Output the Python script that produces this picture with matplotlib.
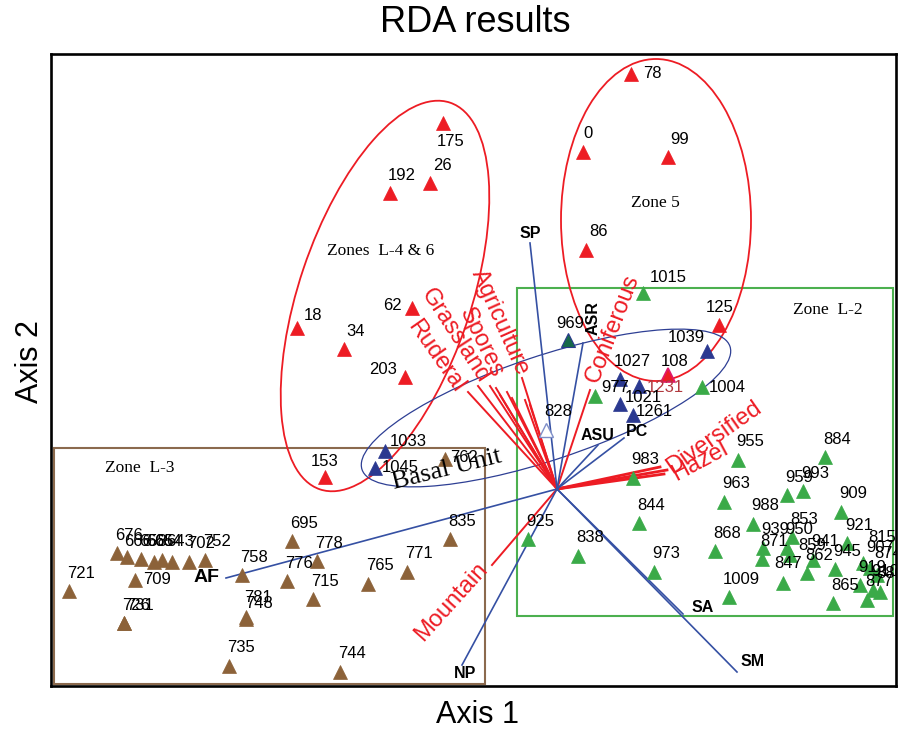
import matplotlib
matplotlib.use("Agg")
import matplotlib.pyplot as plt
from matplotlib.patches import Ellipse, Rectangle

plt.rcParams['font.family'] = ['Liberation Sans', 'DejaVu Sans']

# sample scores (units = plot pixels, y grows downward)
red_names = ['78', '0', '99', '86', '175', '26', '192', '62', '18', '34', '203', '153', '125']
red_x = [631, 583, 668, 586, 443, 430, 390, 412, 297, 344, 405, 325, 719]
red_y = [74, 152, 157, 250, 123, 183, 193, 308, 328, 349, 377, 477, 325]

navy_names = ['1039', '1027', '1231', '1021', '1261', '1033', '1045']
navy_x = [707, 620, 639, 620, 633, 385, 375]
navy_y = [351, 379, 386, 404, 415, 451, 468]

green_names = ['1015', '977', '1004', '983', '844', '925', '838', '973', '955', '884',
               '963', '959', '993', '909', '988', '868', '921', '939', '950', '853',
               '871', '859', '941', '862', '847', '1009', '945', '865', '877', '919',
               '910', '907', '815', '874', '880']
green_x = [643, 595, 702, 633, 639, 528, 578, 654, 738, 825,
           724, 787, 803, 841, 753, 715, 847, 763, 787, 792,
           762, 790, 813, 807, 783, 729, 835, 833, 867, 860,
           873, 863, 870, 877, 880]
green_y = [293, 396, 387, 478, 523, 539, 556, 572, 460, 457,
           502, 495, 491, 512, 524, 551, 543, 548, 548, 537,
           559, 555, 560, 573, 583, 597, 569, 603, 600, 585,
           590, 563, 568, 575, 592]

brown_names = ['721', '676', '666', '658', '665', '664', '643', '702', '752', '709',
               '726', '731', '758', '695', '778', '776', '715', '765', '771', '835',
               '781', '748', '735', '744', '762']
brown_x = [69, 117, 127, 141, 154, 162, 172, 189, 205, 135,
           124, 124, 242, 292, 317, 287, 313, 368, 407, 450,
           246, 246, 229, 340, 445]
brown_y = [591, 553, 557, 559, 562, 560, 562, 562, 560, 580,
           623, 623, 575, 541, 561, 581, 599, 584, 572, 539,
           617, 619, 666, 672, 459]

other_names = ['969', '108', '828']
other_x = [568, 668, 546]
other_y = [340, 375, 430]

origin = (557, 489)

# environmental variables (blue) and pollen groups (red)
env_names = ['SP', 'ASR', 'ASU', 'PC', 'AF', 'NP', 'SA', 'SM']
env_x = [530, 583, 598, 624, 226, 462, 683, 737]
env_y = [243, 343, 445, 438, 578, 665, 614, 672]

sp_x = [468, 478, 490, 496, 500, 507, 512, 522, 525, 530, 590, 667, 664, 660, 492]
sp_y = [392, 386, 386, 388, 395, 392, 398, 378, 400, 405, 390, 470, 474, 467, 565]

RED = '#ed1c24'
BLUE = '#3550a3'

fig = plt.figure(figsize=(9.06, 7.29), dpi=100)
ax = fig.add_axes([51 / 906, 43 / 729, 845 / 906, 632 / 729])
ax.set_xlim(51, 896)
ax.set_ylim(686, 54)
ax.set_xticks([])
ax.set_yticks([])
for s in ax.spines.values():
    s.set_linewidth(1.9)

# zone boxes and ellipses
ax.add_patch(Rectangle((54, 448), 431, 236, fill=False, ec='#8b6a4e', lw=1.5))
ax.add_patch(Rectangle((517, 288), 376, 328, fill=False, ec='#4cb04f', lw=1.5))
ax.add_patch(Ellipse((656, 220), 190, 322, angle=0, fill=False, ec=RED, lw=1.3))
ax.add_patch(Ellipse((385, 296), 408, 172, angle=-71.4, fill=False, ec=RED, lw=1.3))
ax.add_patch(Ellipse((546, 408), 388, 104, angle=-18.5, fill=False, ec='#2e3f94', lw=0.9))

# arrows
for x, y in zip(sp_x, sp_y):
    lw = 2.0 if x > 600 and y > 450 else 1.4
    ax.plot([origin[0], x], [origin[1], y], color=RED, lw=lw, zorder=2)
for x, y in zip(env_x, env_y):
    ax.plot([origin[0], x], [origin[1], y], color=BLUE, lw=1.2, zorder=2)

env_lab = {'SP': (0, -9, 0), 'ASR': (10, -25, 90), 'ASU': (0, -9, 0), 'PC': (13, -7, 0),
           'AF': (-19, 0, 0), 'NP': (3, 8, 0), 'SA': (20, -6, 0), 'SM': (16, -10, 0)}
for n, x, y in zip(env_names, env_x, env_y):
    dx, dy, rot = env_lab[n]
    fs = 14 if n == 'AF' else 11.5
    ax.text(x + dx, y + dy, n, fontsize=fs, fontweight='bold', ha='center', va='center',
            rotation=rot, zorder=5)

# pollen group labels
sp_labels = [('Agriculture', 500, 322, -66), ('Spores', 481, 343, -64),
             ('Grassland', 455, 336, -57), ('Ruderal', 436, 357, -55),
             ('Coniferous', 613, 329, 69), ('Diversified', 714, 437, 35),
             ('Hazel', 700, 462, 28), ('Mountain', 451, 602, 48)]
for t, x, y, r in sp_labels:
    ax.text(x, y, t, color=RED, fontsize=17, ha='center', va='center', rotation=r,
            rotation_mode='anchor', zorder=5)

# sample markers
groups = [(red_names, red_x, red_y, RED, RED),
          (navy_names, navy_x, navy_y, '#2b3990', '#2b3990'),
          (green_names, green_x, green_y, '#3aaa48', '#3aaa48'),
          (brown_names, brown_x, brown_y, '#8c6239', '#8c6239')]
for names, xs, ys, fc, ec in groups:
    ax.plot(xs, ys, '^', ms=9.5, mfc=fc, mec=ec, mew=0.5, ls='none', zorder=4)
ax.plot(other_x[0], other_y[0], '^', ms=9.5, mfc='#17694a', mec='#2b3990', mew=0.8, zorder=4)
ax.plot(other_x[1], other_y[1], '^', ms=9.5, mfc=RED, mec='#e0186c', mew=1.2, zorder=4)
ax.plot(other_x[2], other_y[2], '^', ms=9.5, mfc='white', mec='#7f8fc8', mew=1.0, zorder=4)

off = {'78': (21, 0), '0': (5, -19), '175': (8, 18), '62': (-20, -2), '18': (16, -12),
       '203': (-22, -7), '153': (0, -16), '125': (1, -17),
       '1039': (-21, -14), '1231': (26, 1), '1021': (23, -7), '1261': (21, -4),
       '1033': (23, -10), '1045': (25, 0), '969': (2, -17), '108': (7, -14),
       '1015': (25, -16), '977': (20, -8), '1004': (25, 1), '859': (22, -10),
       '847': (5, -19), '709': (22, 0), '762': (19, -2), '666': (11, -16),
       '665': (6, -21), '664': (6, -19), '643': (8, -21), '731': (16, -17),
       '781': (12, -20), '748': (13, -16), '815': (12, -30), '907': (17, -15),
       '874': (11, -22), '880': (10, -19)}
all_names = red_names + navy_names + green_names + brown_names + other_names
all_x = red_x + navy_x + green_x + brown_x + other_x
all_y = red_y + navy_y + green_y + brown_y + other_y
for n, x, y in zip(all_names, all_x, all_y):
    dx, dy = off.get(n, (12, -18))
    col = '#b0393e' if n == '1231' else 'black'
    ax.text(x + dx, y + dy, n, fontsize=12, color=col, ha='center', va='center', zorder=5,
            clip_on=True)

# zone names
serif = 'Liberation Serif'
ax.text(655, 203, 'Zone 5', family=serif, fontsize=12.5, ha='center', va='center')
ax.text(381, 251, 'Zones  L-4 & 6', family=serif, fontsize=12.5, ha='center', va='center')
ax.text(828, 310, 'Zone  L-2', family=serif, fontsize=12.5, ha='center', va='center')
ax.text(140, 468, 'Zone  L-3', family=serif, fontsize=12.5, ha='center', va='center')
ax.text(447, 470, 'Basal Unit', family=serif, fontsize=19, ha='center', va='center',
        rotation=14, rotation_mode='anchor', zorder=5)

fig.text(475 / 906, 1 - 22 / 729, 'RDA results', fontsize=26, ha='center', va='center')
fig.text(478 / 906, 1 - 715 / 729, 'Axis 1', fontsize=22, ha='center', va='center')
fig.text(30 / 906, 1 - 362 / 729, 'Axis 2', fontsize=22, ha='center', va='center', rotation=90)

fig.savefig('out.png', dpi=100)
